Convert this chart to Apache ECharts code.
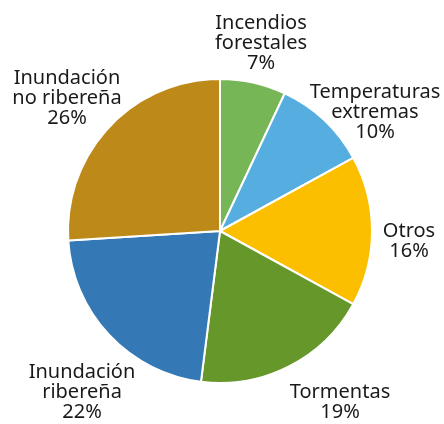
<!DOCTYPE html>
<html>
<head>
<meta charset="utf-8">
<script src="https://cdn.jsdelivr.net/npm/echarts@6/dist/echarts.min.js"></script>
<style>
  html, body { margin: 0; padding: 0; background: #fff; }
  #chart { width: 444px; height: 424px; }
</style>
</head>
<body>
<div id="chart"></div>
<script>
// categories and shares (%), clockwise from 12 o'clock
const categories = [
  'Incendios\nforestales',
  'Temperaturas\nextremas',
  'Otros',
  'Tormentas',
  'Inundación\nribereña',
  'Inundación\nno ribereña'
];
const shares = [7, 10, 16, 19, 22, 26];
const colors = ['#77b657', '#56aee0', '#fbbf00', '#65972a', '#3478b5', '#bd8a1a'];

// where each label block is centred (px)
const labelSpots = [[261, 43], [375, 112], [409, 241], [340, 402], [82, 392], [67, 98]];

const chart = echarts.init(document.getElementById('chart'));

const seriesData = categories.map((name, i) => ({
  name: name,
  value: shares[i],
  itemStyle: { color: colors[i] }
}));

chart.setOption({
  animation: false,
  series: [{
    type: 'pie',
    center: [220, 231],
    radius: 152,
    startAngle: 90,
    clockwise: true,
    data: seriesData,
    itemStyle: { borderColor: '#fff', borderWidth: 2 },
    label: {
      show: true,
      position: 'outside',
      overflow: 'none',
      formatter: function (p) { return p.name + '\n' + p.value + '%'; },
      fontFamily: 'Noto Sans',
      fontSize: 20,
      lineHeight: 20,
      color: '#1a1a1a'
    },
    labelLine: { show: false },
    labelLayout: function (params) {
      const s = labelSpots[params.dataIndex];
      return { x: s[0], y: s[1], align: 'center', verticalAlign: 'middle' };
    }
  }]
});
</script>
</body>
</html>
